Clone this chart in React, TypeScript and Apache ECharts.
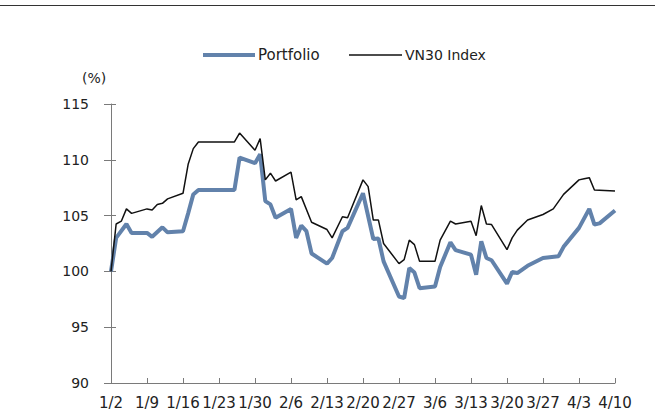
import React, { useEffect, useRef } from "react";
import * as echarts from "echarts";

// day index 0 = 1/2 (2023), 98 = 4/10
const tickLabels = ["1/2", "1/9", "1/16", "1/23", "1/30", "2/6", "2/13", "2/20", "2/27", "3/6", "3/13", "3/20", "3/27", "4/3", "4/10"];

const portfolioDays = [0, 1, 3, 4, 7, 8, 10, 11, 14, 15, 16, 17, 24, 25, 28, 29, 30, 31, 32, 35, 36, 37, 38, 39, 42, 43, 45, 46, 49, 51, 52, 53, 56, 57, 58, 59, 60, 63, 64, 66, 67, 70, 71, 72, 73, 74, 77, 78, 79, 81, 84, 87, 88, 91, 93, 94, 95, 98];
const portfolioValues = [100, 103.0, 104.25, 103.45, 103.45, 103.1, 103.95, 103.5, 103.6, 105.2, 106.9, 107.3, 107.3, 110.2, 109.7, 110.5, 106.3, 106.0, 104.8, 105.6, 103.0, 104.1, 103.6, 101.6, 100.7, 101.2, 103.6, 103.9, 107.0, 102.9, 102.95, 100.9, 97.75, 97.6, 100.3, 99.9, 98.5, 98.65, 100.4, 102.6, 101.9, 101.5, 99.7, 102.7, 101.2, 101.0, 98.9, 99.95, 99.85, 100.5, 101.2, 101.35, 102.2, 103.9, 105.6, 104.2, 104.3, 105.45];

const vn30Days = [0, 1, 2, 3, 4, 7, 8, 9, 10, 11, 14, 15, 16, 17, 24, 25, 28, 29, 30, 31, 32, 35, 36, 37, 39, 42, 43, 45, 46, 49, 50, 51, 52, 53, 56, 57, 58, 59, 60, 63, 64, 66, 67, 70, 71, 72, 73, 74, 77, 78, 79, 81, 84, 86, 88, 91, 92, 93, 94, 98];
const vn30Values = [100, 104.25, 104.5, 105.6, 105.2, 105.6, 105.5, 106.0, 106.1, 106.5, 107.0, 109.6, 111.0, 111.6, 111.6, 112.4, 110.85, 111.9, 108.2, 108.8, 108.1, 108.9, 106.4, 106.7, 104.4, 103.75, 103.0, 104.9, 104.8, 108.2, 107.6, 104.6, 104.6, 102.5, 100.7, 101.05, 102.8, 102.4, 100.9, 100.9, 102.8, 104.5, 104.25, 104.5, 103.2, 105.9, 104.25, 104.2, 101.95, 103.0, 103.7, 104.6, 105.1, 105.6, 106.9, 108.2, 108.3, 108.4, 107.3, 107.2];

const seriesNames = ["Portfolio", "VN30 Index"];
const FONT = "DejaVu Sans";
const BLUE = "#6282AB";

export default function App() {
  const ref = useRef<HTMLDivElement>(null);
  useEffect(() => {
    document.body.style.margin = "0";
    const chart = echarts.init(ref.current!, null, { renderer: "svg" });
    const pData = portfolioDays.map((d, i) => [d, portfolioValues[i]]);
    const vData = vn30Days.map((d, i) => [d, vn30Values[i]]);
    const yCommon = { type: "value", min: 90, max: 115, interval: 5 };
    chart.setOption({
      animation: false,
      backgroundColor: "#ffffff",
      textStyle: { fontFamily: FONT },
      grid: { left: 111, right: 40, top: 104, bottom: 33, containLabel: false },
      xAxis: {
        type: "value",
        min: 0,
        max: 98,
        interval: 7,
        axisLine: { show: true, lineStyle: { color: "#7a7a7a", width: 1 } },
        axisTick: { show: true, inside: true, length: 5, lineStyle: { color: "#7a7a7a" } },
        axisLabel: {
          color: "#222",
          fontSize: 15,
          fontFamily: FONT,
          margin: 12,
          formatter: (v: number) => tickLabels[Math.round(v / 7)] ?? "",
        },
        splitLine: { show: false },
      },
      yAxis: [
        {
          ...yCommon,
          axisLine: { show: true, lineStyle: { color: "#7a7a7a", width: 1 } },
          axisTick: { show: true, inside: false, length: 7, lineStyle: { color: "#7a7a7a" } },
          axisLabel: { color: "#222", fontSize: 14, fontFamily: FONT, margin: 22 },
          splitLine: { show: false },
        },
        {
          ...yCommon,
          position: "left",
          axisLine: { show: false },
          axisTick: { show: true, inside: true, length: 5, lineStyle: { color: "#7a7a7a" } },
          axisLabel: { show: false },
          splitLine: { show: false },
        },
      ],
      series: [
        {
          name: seriesNames[0],
          type: "line",
          data: pData,
          showSymbol: false,
          lineStyle: { color: BLUE, width: 4 },
          itemStyle: { color: BLUE },
          z: 2,
        },
        {
          name: seriesNames[1],
          type: "line",
          data: vData,
          showSymbol: false,
          lineStyle: { color: "#111", width: 1.5 },
          itemStyle: { color: "#111" },
          z: 3,
        },
      ],
      graphic: [
        { type: "line", shape: { x1: 0, y1: 5.5, x2: 655, y2: 5.5 }, style: { stroke: "#333", lineWidth: 1 } },
        { type: "line", shape: { x1: 203, y1: 55, x2: 255, y2: 55 }, style: { stroke: BLUE, lineWidth: 4 } },
        { type: "text", x: 258, y: 55, style: { text: seriesNames[0], fontSize: 15, fontFamily: FONT, fill: "#222", textVerticalAlign: "middle", verticalAlign: "middle" } },
        { type: "line", shape: { x1: 349, y1: 55, x2: 402, y2: 55 }, style: { stroke: "#111", lineWidth: 1.5 } },
        { type: "text", x: 405, y: 55, style: { text: seriesNames[1], fontSize: 14, fontFamily: FONT, fill: "#222", textVerticalAlign: "middle", verticalAlign: "middle" } },
        { type: "text", x: 82, y: 78, style: { text: "(%)", fontSize: 14, fontFamily: FONT, fill: "#222", textVerticalAlign: "middle", verticalAlign: "middle" } },
      ],
    });
    return () => chart.dispose();
  }, []);
  return <div ref={ref} style={{ position: "fixed", left: 0, top: 0, width: 655, height: 416 }} />;
}
